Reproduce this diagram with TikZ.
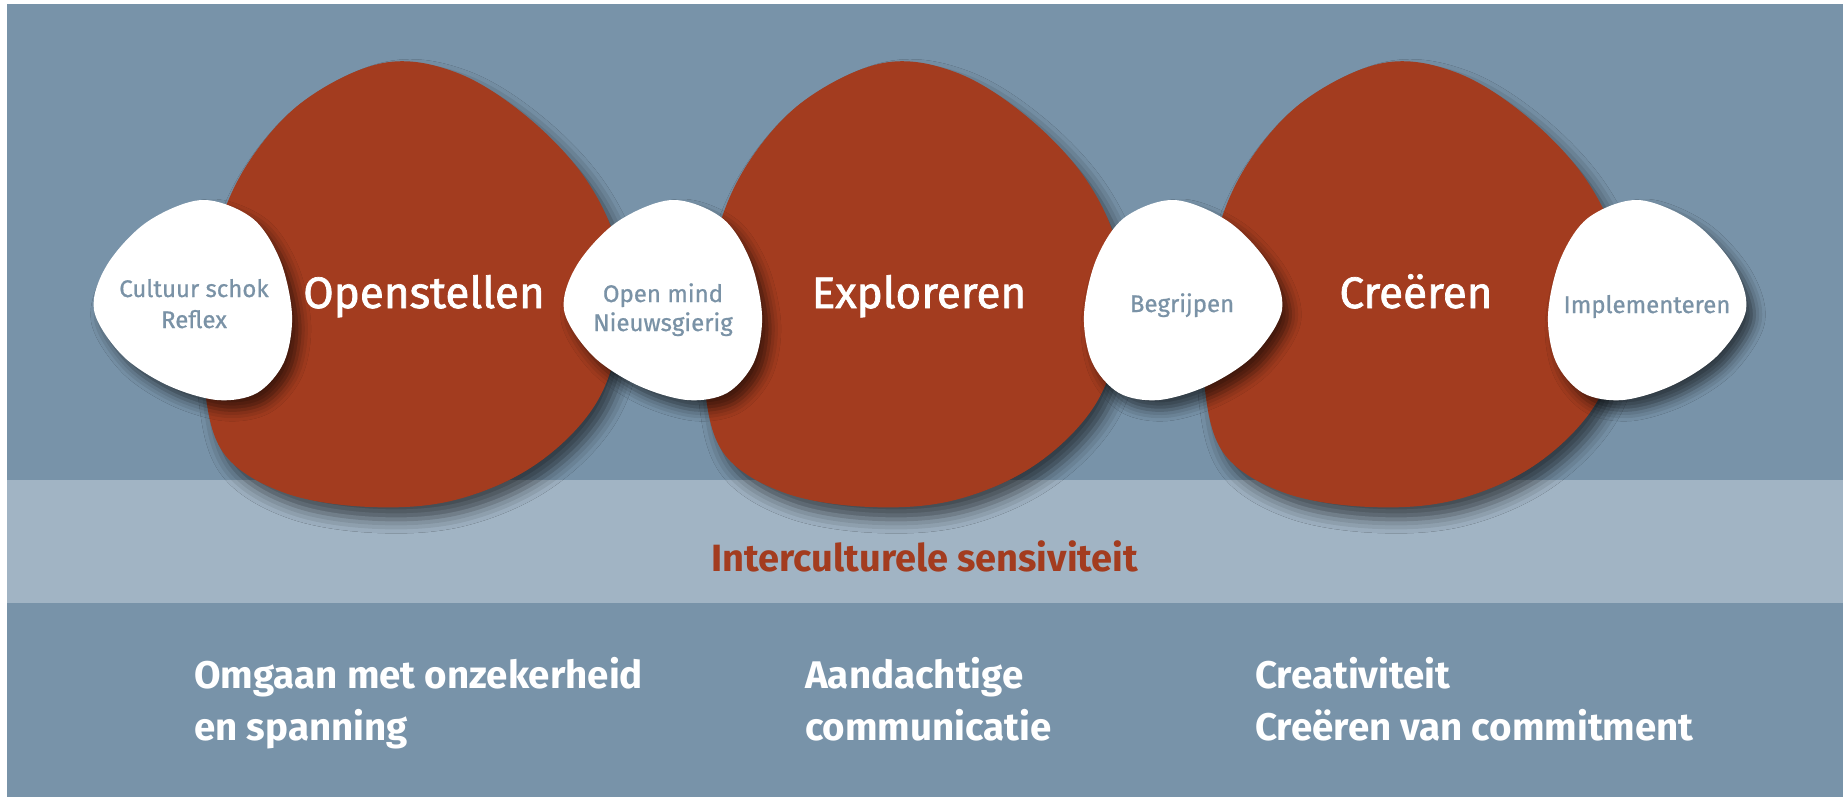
\documentclass[tikz,border=0pt]{standalone}
\usepackage{fontspec}
\setmainfont{Fira Sans}
\newfontfamily\midfont[FakeBold=1.6]{Fira Sans}
\newfontfamily\cuefont[FakeBold=0.8]{Fira Sans}
\usetikzlibrary{positioning,shadows.blur}

\definecolor{slate}{RGB}{120,147,169}
\definecolor{band}{RGB}{161,180,196}
\definecolor{rust}{RGB}{163,60,31}
\definecolor{pebbleink}{RGB}{122,146,166}

\begin{document}
\begin{tikzpicture}[x=1pt,y=-1pt,
  blob/.style={fill=rust,blur shadow={shadow xshift=8pt,shadow yshift=-12pt,
    shadow blur radius=14pt,shadow opacity=60}},
  pebble/.style={fill=white,blur shadow={shadow xshift=8pt,shadow yshift=-10pt,
    shadow blur radius=11pt,shadow opacity=60}}]
  \tikzstyle{stage} = [font=\midfont\fontsize{44}{48}\selectfont,text=white,anchor=base,inner sep=0pt]
  \tikzstyle{cue} = [font=\cuefont\fontsize{24}{27}\selectfont,text=pebbleink,anchor=base,inner sep=0pt]
  \tikzstyle{skill} = [font=\fontsize{38.5}{42}\selectfont\bfseries,text=white,anchor=base west,inner sep=0pt]
  % background
  \fill[white] (0,0) rectangle (1843,797);
  \fill[slate] (7,4) rectangle (1843,797);
  \fill[band] (7,480) rectangle (1843,603);
  % red stages
  \foreach \cx in {415,915,1415}
    \path[blob,shift={(\cx,285)}] plot[smooth cycle,tension=0.6] coordinates {
      (-32,-222) (40,-213) (110,-170) (170,-107) (203,-35) (205,45) (180,120)
      (120,180) (40,215) (-45,222) (-130,208) (-190,170) (-210,105) (-208,25)
      (-197,-55) (-165,-125) (-110,-185)};
  % white pebbles
  \foreach \cx in {192,662}
    \path[pebble,shift={(\cx,300)}] plot[smooth cycle,tension=0.55] coordinates {
      (10,-100) (60,-82) (88,-40) (100,15) (92,62) (65,93) (25,100) (-25,85)
      (-70,55) (-98,10) (-85,-35) (-45,-78)};
  \foreach \cx in {1184,1648}
    \path[pebble,shift={(\cx,300)}] plot[smooth cycle,tension=0.55] coordinates {
      (-10,-100) (-60,-82) (-88,-40) (-100,15) (-92,62) (-65,93) (-25,100) (25,85)
      (70,55) (98,10) (85,-35) (45,-78)};
  % labels
  \node[stage] (open) at (424,308) {Openstellen};
  \node[stage] (explore) at (919,308) {Exploreren};
  \node[stage] (create) at (1416,308) {Creëren};
  \node[cue] (shock) at (194,297) {Cultuur schok};
  \node[cue] (reflex) at ([yshift=-31pt]shock.base) {Reflex};
  \node[cue] (mind) at (663,302) {Open mind};
  \node[cue] (curious) at ([yshift=-29pt]mind.base) {Nieuwsgierig};
  \node[cue] (grasp) at (1182,312) {Begrijpen};
  \node[cue] (implement) at (1647,313) {Implementeren};
  \node[font=\fontsize{38}{42}\selectfont\bfseries,text=rust,anchor=base,inner sep=0pt]
    (sensitivity) at (925,571) {Interculturele sensiviteit};
  \node[skill] (uncertain) at (194,688) {Omgaan met onzekerheid};
  \node[skill] (tension) at ([yshift=-52pt]uncertain.base west) {en spanning};
  \node[skill] (mindful) at (805,688) {Aandachtige};
  \node[skill] (talk) at ([yshift=-52pt]mindful.base west) {communicatie};
  \node[skill] (creative) at (1255,688) {Creativiteit};
  \node[skill] (commit) at ([yshift=-52pt]creative.base west) {Creëren van commitment};
\end{tikzpicture}
\end{document}
